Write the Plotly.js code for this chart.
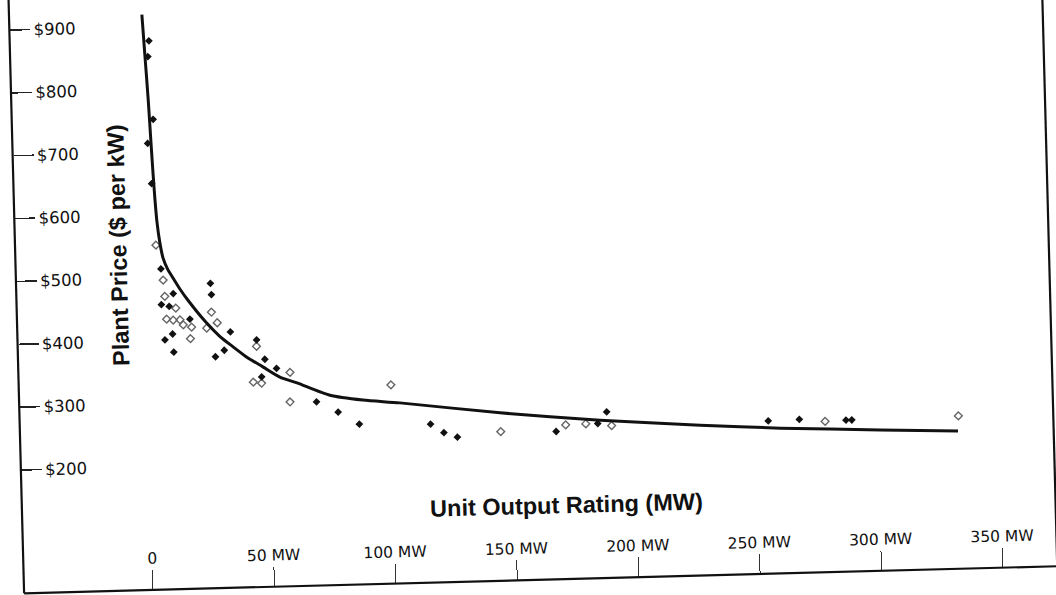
<!DOCTYPE html>
<html><head><meta charset="utf-8">
<script src="https://cdn.plot.ly/plotly-3.0.1.min.js"></script>
<style>
html,body{margin:0;padding:0;background:#fff;overflow:hidden;width:1056px;height:595px;}
#chart{position:absolute;left:-20px;top:-30px;width:1100px;height:660px;transform:rotate(-1.5deg);transform-origin:548px 327px;}
</style></head><body><div id="chart"></div>
<script>
// ---- data ----
const xTickVals = [0, 50, 100, 150, 200, 250, 300, 350];
const xTickText = ['0', '50 MW', '100 MW', '150 MW', '200 MW', '250 MW', '300 MW', '350 MW'];
const yTickVals = [200, 300, 400, 500, 600, 700, 800, 900];
const yTickText = ['$200', '$300', '$400', '$500', '$600', '$700', '$800', '$900'];

const curveMW    = [1.6, 2.4, 3.3, 4.0, 4.5, 5.0, 5.6, 6.5, 7.7, 9.5, 11.6, 14.5, 17.5, 24.5, 30.3, 35.6, 41.1, 47.6, 54.5, 61.5, 74.9, 88.4, 103.6, 144.7, 185.8, 226.9, 259.8, 301, 333];
const curvePrice = [919, 855, 783, 712, 665, 624, 588, 557, 531, 513, 499, 480, 463, 428, 404, 387, 370, 354, 337, 327, 306, 297, 291, 271, 255, 243, 235, 228, 223];

const filledMW    = [4.2, 3.6, 5.1, 2.6, 3.8, 6.7, 11.5, 6.5, 9.7, 18.1, 10.8, 7.6, 11.1, 26.9, 27.2, 34.6, 31.9, 28.2, 45.3, 48.5, 53.2, 47.0, 69.3, 78.1, 86.7, 116.0, 121.4, 126.9, 167.6, 184.8, 188.6, 255, 267.8, 287, 289.4];
const filledPrice = [877, 852, 752, 714, 650, 514, 474, 457, 454, 433, 410, 401, 381, 489, 471, 411, 382, 372, 397, 366, 351, 338, 296, 279, 259, 256, 242, 234, 239, 250, 268, 247, 248, 245, 245];

const openMW    = [4.9, 7.5, 8.0, 12.4, 8.5, 11.2, 14.0, 18.7, 18.1, 15.3, 27.0, 29.3, 24.9, 45.2, 58.7, 43.5, 46.9, 58.4, 100.1, 144.8, 171.6, 179.9, 190.5, 278.4, 333.3];
const openPrice = [552, 496, 470, 451, 434, 432, 432, 420, 402, 424, 443, 426, 418, 387, 344, 330, 328, 297, 320, 241, 249, 250, 246, 244, 247];

// ---- chart ----
const traces = [
  {x: openMW, y: openPrice, mode: 'markers', type: 'scatter', name: 'Plants',
   marker: {symbol: 'diamond-open', size: 6, color: '#666', line: {width: 1.4, color: '#666'}}},
  {x: filledMW, y: filledPrice, mode: 'markers', type: 'scatter', name: 'Plants',
   marker: {symbol: 'diamond', size: 6, color: '#111'}},
  {x: curveMW, y: curvePrice, mode: 'lines', type: 'scatter', name: 'Trend',
   line: {color: '#111', width: 3, shape: 'spline', smoothing: 0.7}}
];

const tickFontFamily = 'DejaVu Sans, Verdana, sans-serif';
const titleFont = {family: 'Liberation Sans, Arial, Helvetica, sans-serif', size: 23.5, weight: 700, color: '#111'};

const layout = {
  width: 1100, height: 660,
  margin: {l: 0, r: 0, t: 0, b: 0},
  paper_bgcolor: '#fff', plot_bgcolor: '#fff',
  showlegend: false,
  xaxis: {
    domain: [0.083636, 0.972727], range: [-30.26, 372.37],
    anchor: 'free', position: 0.075758, side: 'top',
    showgrid: false, zeroline: false, showline: false,
    ticks: 'outside', ticklen: 20, tickwidth: 1, tickcolor: '#333',
    tickmode: 'array', tickvals: xTickVals, ticktext: xTickText,
    tickfont: {family: tickFontFamily, size: 15.5, color: '#111'},
    title: {text: 'Unit Output Rating (MW)', font: titleFont, standoff: 17}
  },
  yaxis: {
    domain: [0.244242, 0.954545], range: [180.75, 926.4],
    anchor: 'free', position: 0.0332, side: 'right',
    showgrid: false, zeroline: false, showline: false,
    ticks: 'outside', ticklen: 20, tickwidth: 1.5, tickcolor: '#222',
    tickmode: 'array', tickvals: yTickVals, ticktext: yTickText,
    tickfont: {family: tickFontFamily, size: 16.5, color: '#111'},
    title: {text: 'Plant Price ($ per kW)', font: titleFont, standoff: 29}
  },
  shapes: [
    {type: 'line', xref: 'paper', yref: 'paper', x0: 0.0332, x1: 0.0332, y0: 0.075758, y1: 1, line: {color: '#111', width: 2.2}},
    {type: 'line', xref: 'paper', yref: 'paper', x0: 0.0332, x1: 0.972727, y0: 0.075758, y1: 0.075758, line: {color: '#111', width: 2.2}},
    {type: 'line', xref: 'paper', yref: 'paper', x0: 0.972727, x1: 0.972727, y0: 0.075758, y1: 1, line: {color: '#111', width: 2.2}}
  ]
};

Plotly.newPlot('chart', traces, layout, {displayModeBar: false, staticPlot: true});
</script>
</body></html>
